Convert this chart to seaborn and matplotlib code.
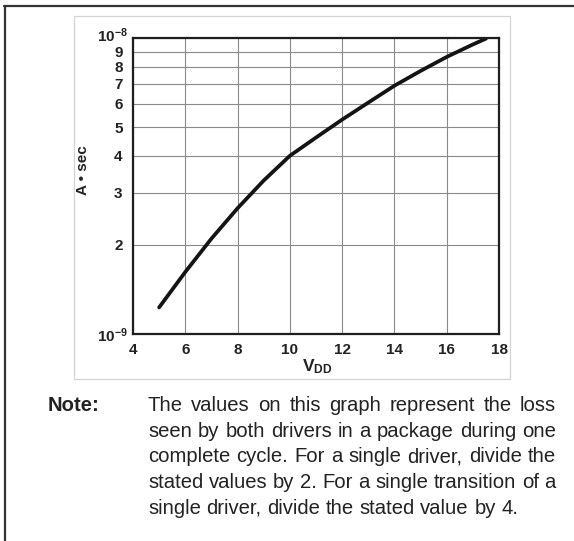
import numpy as np
import pandas as pd
import seaborn as sns
import matplotlib.pyplot as plt
import matplotlib.transforms as mtransforms
from matplotlib.patches import Rectangle
from matplotlib.lines import Line2D
from matplotlib.ticker import FixedLocator, FixedFormatter, NullFormatter

# Data (charge per cycle vs supply voltage)
vdd = [5, 6, 7, 8, 9, 10, 11, 12, 13, 14, 15, 16, 17, 17.5]
charge_e9 = [1.23, 1.62, 2.10, 2.66, 3.30, 4.0, 4.61, 5.30, 6.05, 6.90, 7.74, 8.63, 9.51, 9.95]

x_ticks = [4, 6, 8, 10, 12, 14, 16, 18]
y_major = [1e-9, 1e-8]
y_major_labels = [r'$\mathbf{10^{-9}}$', r'$\mathbf{10^{-8}}$']
y_minor = [2, 3, 4, 5, 6, 7, 8, 9]

note_lines = [
    "The values on this graph represent the loss",
    "seen by both drivers in a package during one",
    "complete cycle. For a single driver, divide the",
    "stated values by 2. For a single transition of a",
    "single driver, divide the stated value by 4.",
]

df = pd.DataFrame({"vdd": vdd, "charge": np.array(charge_e9) * 1e-9})

sns.set_theme(style="white")
plt.rcParams['font.family'] = ['Liberation Sans', 'DejaVu Sans']
plt.rcParams['mathtext.fontset'] = 'custom'
plt.rcParams['mathtext.rm'] = 'Liberation Sans'
plt.rcParams['mathtext.bf'] = 'Liberation Sans:bold'
plt.rcParams['mathtext.it'] = 'Liberation Sans:italic'

W, H = 574, 541
fig = plt.figure(figsize=(W / 100, H / 100), dpi=100)
fig.patch.set_facecolor('white')

def fx(px):
    return px / W

def fy(py):
    return 1 - py / H

# outer frame (top + left only) and light inner box
fig.add_artist(Line2D([fx(4), 1], [fy(6), fy(6)], color='#333333', lw=1.6))
fig.add_artist(Line2D([fx(4.5), fx(4.5)], [0, fy(6)], color='#333333', lw=1.6))
fig.add_artist(Rectangle((fx(74), fy(379)), fx(510) - fx(74), fy(16) - fy(379),
                         fill=False, edgecolor='#d4d4d4', lw=0.9))

ax = fig.add_axes([fx(133), fy(334), fx(499) - fx(133), fy(38) - fy(334)])
sns.lineplot(data=df, x="vdd", y="charge", ax=ax, color='#141414', lw=2.7,
             sort=False, estimator=None)

ax.set_yscale('log')
ax.set_xlim(4, 18)
ax.set_ylim(1e-9, 1e-8)

ax.xaxis.set_major_locator(FixedLocator(x_ticks))
ax.set_xticklabels([str(t) for t in x_ticks])
ax.yaxis.set_major_locator(FixedLocator(y_major))
ax.yaxis.set_major_formatter(FixedFormatter(y_major_labels))
ax.yaxis.set_minor_locator(FixedLocator([v * 1e-9 for v in y_minor]))
ax.yaxis.set_minor_formatter(FixedFormatter([str(v) for v in y_minor]))
ax.xaxis.set_minor_formatter(NullFormatter())

ax.tick_params(axis='both', which='both', length=0, labelsize=11, labelcolor='#222222')
ax.tick_params(axis='x', pad=6.5)
ax.tick_params(axis='y', which='major', pad=3.5)
ax.tick_params(axis='y', which='minor', pad=7.5)
for lab in ax.get_xticklabels() + ax.get_yticklabels(minor=True):
    lab.set_fontweight('bold')

# lift the 10^-8 label a little so it clears the "9"
top_tick = ax.yaxis.get_major_ticks()[1]
top_tick.label1.set_transform(top_tick.label1.get_transform() +
                              mtransforms.ScaledTranslation(0, 4 / 100, fig.dpi_scale_trans))

ax.grid(True, which='both', axis='both', color='#8a8a8a', lw=0.8)
ax.set_axisbelow(True)
for sp in ax.spines.values():
    sp.set_visible(True)
    sp.set_color('#1e1e1e')
    sp.set_linewidth(1.6)

ax.set_xlabel('')
ax.set_ylabel('')
fig.text(fx(83), fy(170), 'A \u2022 sec', rotation=90, ha='center', va='center',
         fontsize=11, fontweight='bold', color='#222222')
fig.text(fx(317), fy(367), r'$\mathbf{V}_{\mathbf{DD}}$', ha='center', va='center',
         fontsize=12.5, color='#222222')

# note block, justified like the original
fs_note = 14.6
fig.text(fx(48), fy(411), 'Note:', ha='left', va='baseline', fontsize=fs_note,
         fontweight='bold', color='#222222')
renderer = fig.canvas.get_renderer()
x0, x1 = 148, 556
space = 0.278 * fs_note * 100 / 72
for i, line in enumerate(note_lines):
    y = fy(411 + i * 25.7)
    words = line.split()
    texts = [fig.text(0, y, w, ha='left', va='baseline', fontsize=fs_note, color='#222222')
             for w in words]
    widths = [t.get_window_extent(renderer).width for t in texts]
    if i < len(note_lines) - 1 and len(words) > 1:
        gap = (x1 - x0 - sum(widths)) / (len(words) - 1)
    else:
        gap = space
    x = x0
    for t, w in zip(texts, widths):
        t.set_x(fx(x))
        x += w + gap

fig.savefig('out.png', dpi=100, facecolor='white')
